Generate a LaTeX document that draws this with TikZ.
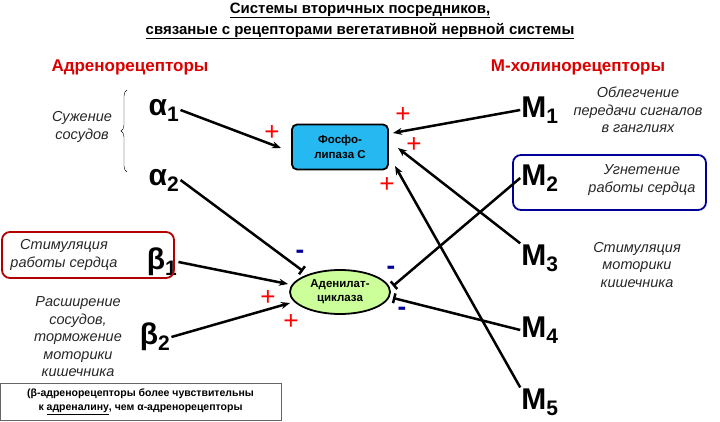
\documentclass[tikz,border=0pt]{standalone}
\usepackage{fontspec}
\setmainfont{Liberation Sans}
\usetikzlibrary{arrows.meta,shapes.geometric,decorations.pathreplacing}
\begin{document}
\begin{tikzpicture}[x=1pt,y=-1pt,
  rec/.style={font=\bfseries\fontsize{30}{30}\selectfont,inner sep=1pt},
  ital/.style={font=\itshape\fontsize{14.5}{17.5}\selectfont,align=center,text=black!85},
  act/.style={-{Stealth[length=9pt,width=7pt]},line width=2.5pt},
  inh/.style={-{Bar[width=10pt]},line width=2.5pt},
  plus/.style={text=red,font=\fontsize{26}{26}\selectfont},
  minus/.style={text=blue!60!black,font=\bfseries\fontsize{26}{26}\selectfont},
  hdr/.style={text=red!85!black,font=\bfseries\fontsize{17}{19}\selectfont}]
\useasboundingbox (0,0) rectangle (720,422);
\node (t) [font=\bfseries\fontsize{15}{21}\selectfont,align=center] at (360,21)
  {\underline{Системы вторичных посредников,}\\\underline{связаные с рецепторами вегетативной нервной системы}};
\node (ha) [hdr] at (130,67) {Адренорецепторы};
\node (hm) [hdr] at (578,67) {М-холинорецепторы};
% left
\node (a1) [rec] at (164,110) {α\textsubscript{1}};
\node (a2) [rec] at (164,180) {α\textsubscript{2}};
\node (b1) [rec] at (162,262) {β\textsubscript{1}};
\node (b2) [rec] at (155,337) {β\textsubscript{2}};
\draw[decorate,decoration={brace,amplitude=6pt}] (127,172) -- (127,90);
\node (sz) [ital] at (82,127) {Сужение\\сосудов};
\node (sr) [draw=red!70!black,line width=1.8pt,rounded corners=8pt,minimum width=172pt,minimum height=46pt] at (88,255) {};
\node (srt) [ital] at (64,255) {Стимуляция\\работы сердца};
\node (rs) [ital] at (78,337) {Расширение\\сосудов,\\торможение\\моторики\\кишечника};
\node (nb) [draw=black!60,fill=white,font=\bfseries\fontsize{10.5}{14}\selectfont,align=center,minimum width=281pt,minimum height=37pt] at (140.5,401.5)
  {(β-адренорецепторы более чувствительны\\к \underline{адреналину}, чем α-адренорецепторы};
% centre
\node (pl) [draw,line width=1.8pt,fill=cyan!85!white,rounded corners=5pt,minimum width=96pt,minimum height=45pt,align=center,font=\bfseries\fontsize{11.5}{15}\selectfont] at (340,147) {Фосфо-\\липаза С};
\node (ac) [ellipse,draw,line width=1.8pt,fill=green!50!yellow!40,minimum width=100pt,minimum height=44pt,inner sep=1pt,align=center,font=\bfseries\fontsize{11.5}{14}\selectfont] at (340,292) {Аденилат-\\циклаза};
% right
\node (m1) [rec] at (540,110) {M\textsubscript{1}};
\node (m2) [rec] at (540,178) {M\textsubscript{2}};
\node (m3) [rec] at (540,258) {M\textsubscript{3}};
\node (m4) [rec] at (540,330) {M\textsubscript{4}};
\node (m5) [rec] at (540,402) {M\textsubscript{5}};
\node (m1t) [ital] at (638,110) {Облегчение\\передачи сигналов\\в ганглиях};
\node (m2b) [draw=blue!60!black,line width=1.8pt,rounded corners=8pt,minimum width=193pt,minimum height=55pt] at (609.5,182.5) {};
\node (m2t) [ital] at (642,180) {Угнетение\\работы сердца};
\node (m3t) [ital] at (637,265) {Стимуляция\\моторики\\кишечника};
% arrows
\coordinate (pA) at (281,148); \coordinate (pB) at (393,133);
\coordinate (pC) at (398,148); \coordinate (pD) at (395,166);
\coordinate (aA) at (303,271); \coordinate (aB) at (288,284);
\coordinate (aC) at (290,303); \coordinate (aD) at (393,286);
\coordinate (aE) at (393,298);
\draw[act] (a1.east) -- (pA);
\draw[inh] (a2.east) -- (aA);
\draw[act] (b1.east) -- (aB);
\draw[act] (b2.east) -- (aC);
\draw[act] (m1.west) -- (pB);
\draw[act] (m3.north west) -- (pC);
\draw[act] (m5.north west) -- (pD);
\draw[inh] (m2.west) -- (aD);
\draw[inh] (m4.west) -- (aE);
% signs
\node (p1) [plus] at (272,133) {+};
\node (p2) [plus] at (403,115) {+};
\node (p3) [plus] at (414,145) {+};
\node (p4) [plus] at (387,185) {+};
\node (p5) [plus] at (268,298) {+};
\node (p6) [plus] at (291,322) {+};
\node (n1) [minus] at (300,254) {-};
\node (n2) [minus] at (391,270) {-};
\node (n3) [minus] at (402,311) {-};
\end{tikzpicture}
\end{document}
